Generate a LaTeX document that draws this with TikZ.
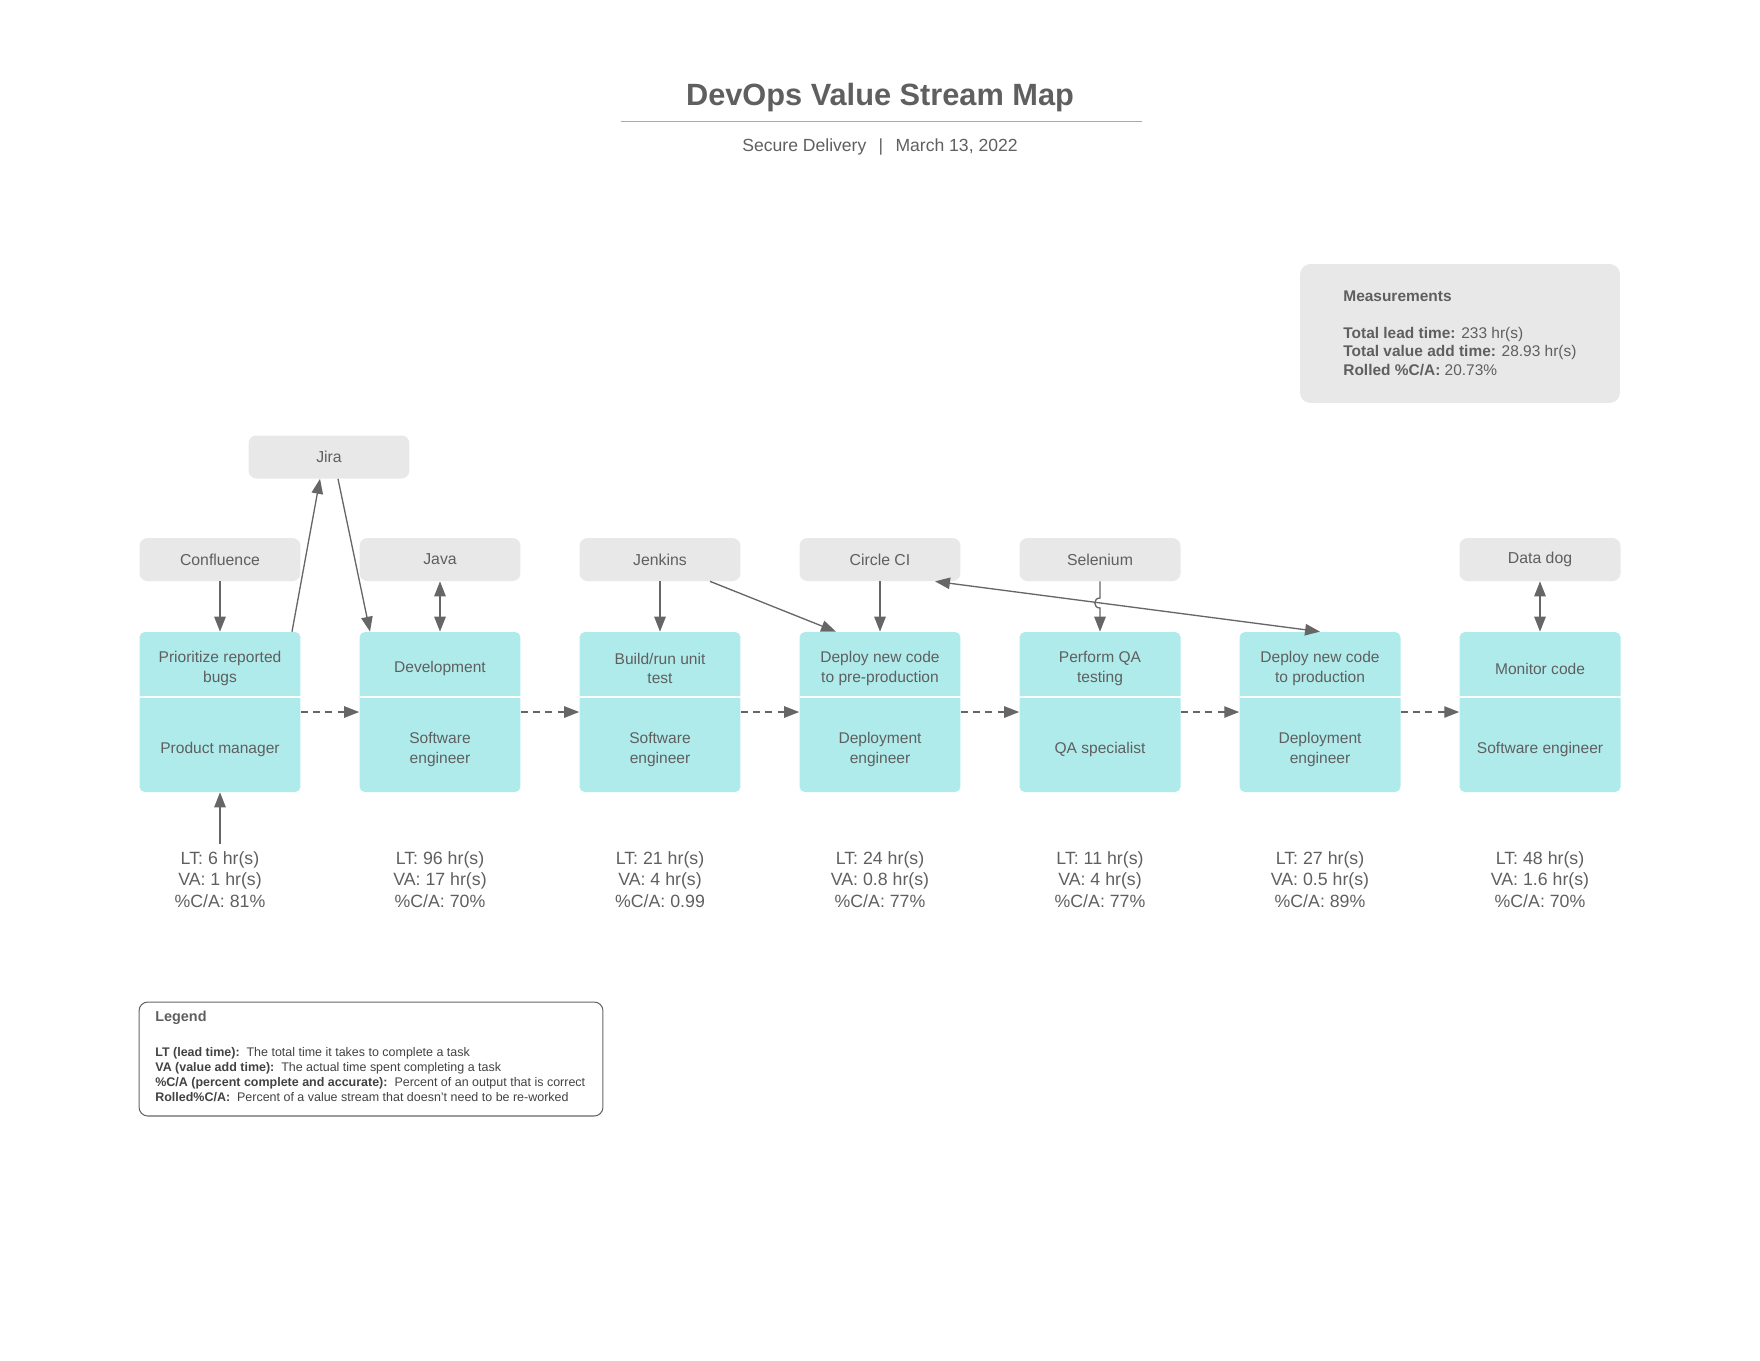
\documentclass[tikz,border=0pt]{standalone}
\usepackage{fontspec}
\setmainfont{Liberation Sans}
\usetikzlibrary{arrows.meta,calc}

\definecolor{txtgray}{RGB}{95,95,95}
\definecolor{legtxt}{RGB}{66,66,66}
\definecolor{linegray}{RGB}{102,102,102}
\definecolor{toolfill}{RGB}{232,232,232}
\definecolor{procfill}{RGB}{176,235,235}
\definecolor{rulegray}{RGB}{170,170,170}

\tikzset{
  >={Triangle[length=8.5pt,width=6.5pt]},
  toolbox/.style={fill=toolfill, rounded corners=4.5pt, minimum width=3.22cm, minimum height=0.86cm,
    inner sep=0pt, text=txtgray, font=\fontsize{9}{11}\selectfont},
  procbox/.style={fill=procfill, rounded corners=3pt, minimum width=3.22cm, minimum height=3.2cm, inner sep=0pt},
  proctext/.style={text=txtgray, align=center, font=\fontsize{8.85}{10.9}\selectfont},
  metric/.style={text=txtgray, align=center, font=\fontsize{10.1}{12.4}\selectfont},
  arr/.style={->, draw=linegray, line width=0.75pt},
  dasharr/.style={arr, dash pattern=on 4pt off 3pt},
}

\begin{document}
\begin{tikzpicture}[x=0.02cm, y=-0.02cm]
\useasboundingbox (0,0) rectangle (1760,1360);

% title
\node[text=txtgray, font=\bfseries\fontsize{17.5}{21}\selectfont] (title) at (880,97.5) {DevOps Value Stream Map};
\coordinate (ruleL) at (620.5,121.5);
\coordinate (ruleR) at (1141.5,121.5);
\draw[rulegray, line width=1pt] (ruleL) -- (ruleR);
\node[text=txtgray, font=\fontsize{10}{12}\selectfont] (subtitle) at (880,147)
  {Secure Delivery\hspace{0.7em}|\hspace{0.7em}March 13, 2022};

% measurements
\node[fill=toolfill, rounded corners=6pt, minimum width=6.4cm, minimum height=2.78cm, inner sep=0pt] (meas) at (1460,333.5) {};
\node[anchor=west, align=left, inner sep=0pt, text=txtgray, font=\fontsize{8.8}{10.5}\selectfont] (meastext) at (1343,333)
  {\textbf{Measurements}\\[10.5pt]
   \textbf{Total lead time:} 233 hr(s)\\
   \textbf{Total value add time:} 28.93 hr(s)\\
   \textbf{Rolled \%C/A:} 20.73\%};

% tools
\node[toolbox] (jira) at (329,457) {Jira};
\node[toolbox] (confl) at (220,559.5) {Confluence};
\node[toolbox] (java) at (440,559.5) {Java};
\node[toolbox] (jenkins) at (660,559.5) {Jenkins};
\node[toolbox] (circle) at (880,559.5) {Circle CI};
\node[toolbox] (selen) at (1100,559.5) {Selenium};
\node[toolbox] (datadog) at (1540,559.5) {Data dog};

% process boxes
\foreach \i/\x/\task/\role in {
  1/220/{Prioritize reported\\bugs}/{Product manager},
  2/440/{Development}/{Software\\engineer},
  3/660/{Build/run unit\\test}/{Software\\engineer},
  4/880/{Deploy new code\\to pre-production}/{Deployment\\engineer},
  5/1100/{Perform QA\\testing}/{QA specialist},
  6/1320/{Deploy new code\\to production}/{Deployment\\engineer},
  7/1540/{Monitor code}/{Software engineer}}
	{
	\node[procbox] (p\i) at (\x,712) {};
	\draw[white, line width=1pt] (\x-80.5,697) -- (\x+80.5,697);
	\node[proctext] (t\i) at (\x,668.5) {\task};
	\node[proctext] (r\i) at (\x,749.5) {\role};
	}

% metrics
\foreach \i/\x/\lt/\va/\ca in {1/220/6/1/81\%, 2/440/96/17/70\%, 3/660/21/4/0.99,
  4/880/24/0.8/77\%, 5/1100/11/4/77\%, 6/1320/27/0.5/89\%, 7/1540/48/1.6/70\%}
	{
	\node[metric] (m\i) at (\x,879.5) {LT: \lt{} hr(s)\\VA: \va{} hr(s)\\\%C/A: \ca};
	}

% flow between steps
\foreach \i in {1,...,6}
	{
	\pgfmathtruncatemacro{\j}{\i+1}
	\draw[dasharr] (p\i.east) -- (p\j.west);
	}

% tool links
\draw[arr] (confl.south) -- (p1.north);
\draw[arr] ($(p1.north)+(72,0)$) -- ($(jira.south)+(-9,0)$);
\draw[arr] ($(jira.south)+(9,0)$) -- ($(p2.north)+(-70,0)$);
\draw[arr,<->] (java.south) -- (p2.north);
\draw[arr] (jenkins.south) -- (p3.north);
\draw[arr] ($(jenkins.south)+(50,0)$) -- ($(p4.north)+(-44,0)$);
\draw[arr] (circle.south) -- (p4.north);
\draw[arr,<->] ($(circle.south)+(55,0)$) -- (p6.north);
\coordinate (hopA) at (1100,598);
\coordinate (hopB) at (1100,608);
\draw[arr] (selen.south) -- (hopA) .. controls ($(hopA)+(-7,0)$) and ($(hopB)+(-7,0)$) .. (hopB) -- (p5.north);
\draw[arr,<->] (datadog.south) -- (p7.north);
\coordinate (pmsrc) at (220,844);
\draw[arr] (pmsrc) -- (p1.south);

% legend
\node[draw=linegray, line width=0.6pt, rounded corners=5pt, minimum width=9.28cm, minimum height=2.28cm, inner sep=0pt] (legend) at (371,1059) {};
\node[anchor=west, inner sep=0pt, text=txtgray, font=\bfseries\fontsize{8.2}{10}\selectfont] (legtitle) at (155,1018) {Legend};
\node[anchor=west, align=left, inner sep=0pt, text=legtxt, font=\fontsize{7.1}{8.5}\selectfont] (legtext) at (155,1074.5)
  {\textbf{LT (lead time):}\ \ The total time it takes to complete a task\\
   \textbf{VA (value add time):}\ \ The actual time spent completing a task\\
   \textbf{\%C/A (percent complete and accurate):}\ \ Percent of an output that is correct\\
   \textbf{Rolled\%C/A:}\ \ Percent of a value stream that doesn't need to be re-worked};
\end{tikzpicture}
\end{document}
